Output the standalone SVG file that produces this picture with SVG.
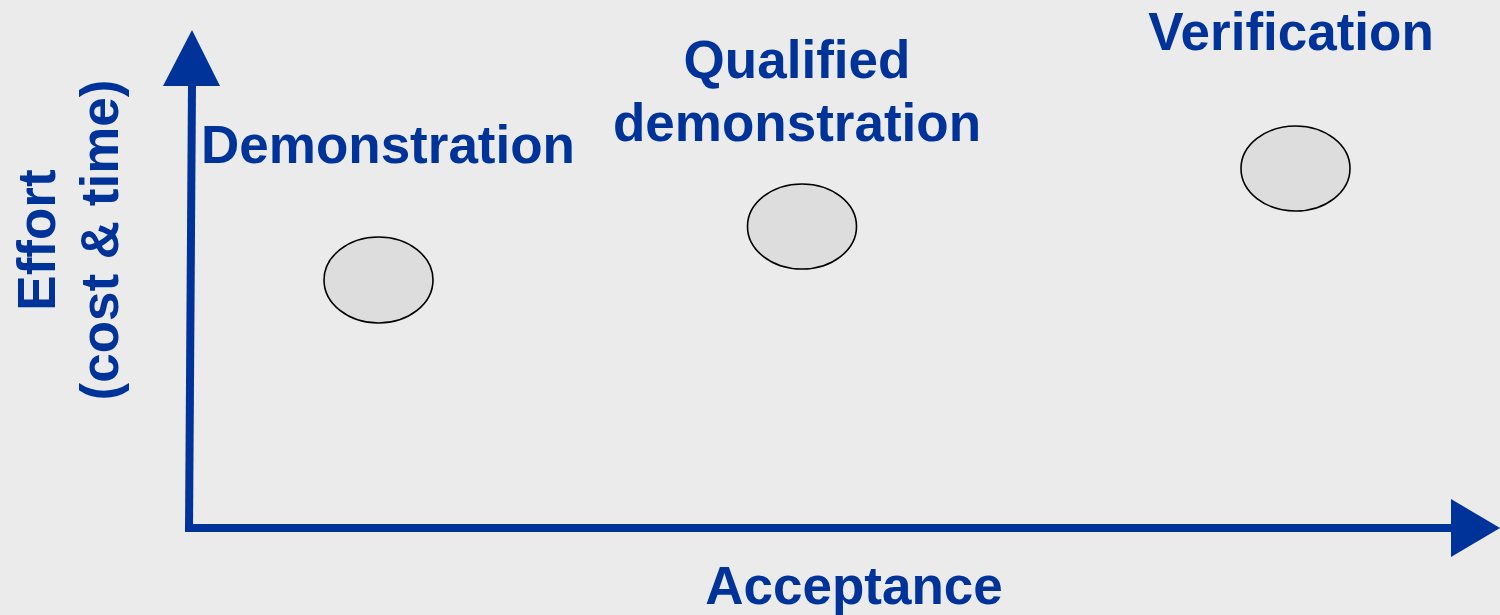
<svg xmlns="http://www.w3.org/2000/svg" width="1500" height="615" viewBox="0 0 1500 615">
<style>
.t{font-family:"Liberation Sans",Arial,sans-serif;font-weight:bold;font-size:53px;fill:#003399}
.n{fill:#dddddd;stroke:#000;stroke-width:1.6}
.ax{stroke:#003399;stroke-width:8;fill:none}
.ah{fill:#003399}
</style>
<rect width="1500" height="615" fill="#ebebeb"/>
<g id="connectors">
<line class="ax" x1="189" y1="532" x2="192" y2="84"/>
<polygon class="ah" points="192,30 220,86 163,86"/>
<line class="ax" x1="185" y1="528" x2="1453" y2="528"/>
<polygon class="ah" points="1500,528 1451,499 1451,557"/>
</g>
<g id="demonstration">
<ellipse class="n" cx="378.5" cy="280" rx="54.5" ry="43"/>
<text class="t" x="388" y="163" text-anchor="middle">Demonstration</text>
</g>
<g id="qualified">
<ellipse class="n" cx="802" cy="226.5" rx="54.5" ry="42.5"/>
<text class="t" x="797" y="78" text-anchor="middle">Qualified</text>
<text class="t" x="797" y="141" text-anchor="middle">demonstration</text>
</g>
<g id="verification">
<ellipse class="n" cx="1295.5" cy="168.5" rx="54.5" ry="42.5"/>
<text class="t" x="1291" y="50" text-anchor="middle">Verification</text>
</g>
<g id="x-label">
<text class="t" x="854" y="604" text-anchor="middle">Acceptance</text>
</g>
<g id="y-label">
<text class="t" transform="translate(55,240) rotate(-90)" text-anchor="middle">Effort</text>
<text class="t" transform="translate(118,240) rotate(-90)" text-anchor="middle">(cost &amp; time)</text>
</g>
</svg>
